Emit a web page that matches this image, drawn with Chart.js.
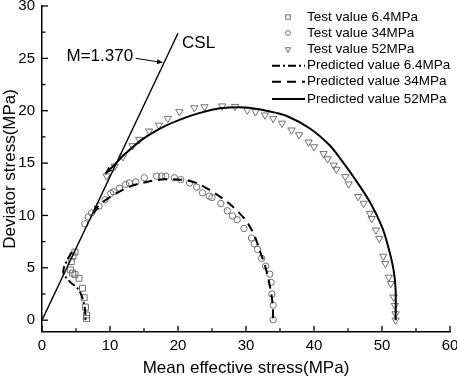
<!DOCTYPE html>
<html>
<head>
<meta charset="utf-8">
<script src="https://cdn.jsdelivr.net/npm/chart.js@4.4.1/dist/chart.umd.min.js"></script>
<style>
  html, body { margin: 0; padding: 0; background: #fff; }
  #wrap { width: 457px; height: 379px; }
</style>
</head>
<body>
<div id="wrap"><canvas id="chart" width="457" height="379"></canvas></div>
<script>
const FONT = "'Liberation Sans', Arial, sans-serif";

const xTicks = [0, 10, 20, 30, 40, 50, 60];
const yTicks = [0, 5, 10, 15, 20, 25, 30];
const xMinor = [5, 15, 25, 35, 45, 55];
const yMinor = [2.5, 7.5, 12.5, 17.5, 22.5, 27.5];

const seriesNames = [
  "Test value 6.4MPa", "Test value 34MPa", "Test value 52MPa",
  "Predicted value 6.4MPa", "Predicted value 34MPa", "Predicted value 52MPa"
];

// critical state line
const cslP = [0, 20];
const cslQ = [0, 27.4];
const cslSlope = "M=1.370";

// test points
const test64P = [4.85, 4.55, 4.3, 4.2, 4.5, 4.85, 5.45, 5.95, 6.2, 6.4, 6.55, 6.55];
const test64Q = [6.5, 6.1, 5.6, 4.8, 4.5, 4.35, 4.0, 3.05, 2.15, 1.25, 0.5, 0.15];

const test34P = [6.3, 6.8, 7.3, 8.4, 9.26, 10.1, 10.5, 11.4, 12.3, 12.84, 13.8, 15.04, 16.87, 17.6, 18.2, 19.46, 20.4, 21.7, 22.75, 23.6, 24.6, 25.0, 26.3, 27.25, 28.0, 28.7, 29.7, 30.8, 31.2, 31.7, 32.3, 32.9, 33.5, 33.7, 33.8, 34.0, 34.0];
const test34Q = [9.2, 9.85, 10.25, 10.9, 11.5, 12.1, 12.26, 12.6, 12.96, 13.1, 13.2, 13.6, 13.75, 13.75, 13.75, 13.6, 13.42, 13.1, 12.7, 12.16, 11.84, 11.7, 11.14, 10.44, 9.95, 9.6, 8.76, 7.85, 7.3, 6.75, 5.9, 5.16, 4.4, 3.6, 2.5, 1.43, 0.05];

const test52P = [9.5, 10.7, 11.9, 13.3, 14.3, 15.75, 17.2, 18.5, 20.2, 22.4, 23.9, 26.5, 28.4, 30.2, 31.4, 32.8, 34.0, 35.3, 36.7, 37.8, 39.2, 40.0, 41.4, 42.0, 42.9, 43.3, 44.6, 45.1, 46.5, 47.3, 48.2, 48.5, 49.1, 49.6, 50.2, 50.5, 51.0, 51.3, 51.7, 51.9, 52.0, 52.0];
const test52Q = [13.75, 14.7, 15.6, 16.65, 17.26, 18.05, 18.62, 19.26, 19.9, 20.28, 20.37, 20.45, 20.4, 20.06, 19.9, 19.58, 19.26, 18.8, 18.15, 17.7, 17.0, 16.55, 15.9, 15.4, 14.8, 14.4, 13.7, 13.0, 11.8, 11.15, 10.2, 9.7, 8.6, 7.8, 6.1, 5.4, 4.1, 3.5, 2.2, 1.4, 0.6, 0.0];

// predicted paths (first point = arrow end on the CSL side)
const pred64P = [4.4, 4.1, 3.6, 3.13, 3.9, 4.6, 5.1, 5.8, 6.3, 6.4];
const pred64Q = [6.5, 6.2, 5.6, 4.6, 3.8, 3.4, 3.15, 2.4, 1.1, 0];

const pred34P = [7.6, 8.0, 9.2, 10.5, 12.9, 15.4, 18.0, 20.3, 22.5, 24.2, 26.6, 28.6, 30.1, 31.3, 32.1, 32.8, 33.5, 33.9, 34.0];
const pred34Q = [10.2, 10.7, 11.4, 11.95, 12.75, 13.2, 13.45, 13.42, 13.15, 12.6, 11.6, 10.5, 9.4, 8.0, 6.5, 5.2, 3.3, 1.6, 0];

const pred52P = [9.3, 10.6, 12.0, 14.4, 16.0, 18.3, 20.5, 22.5, 25.0, 27.5, 30.0, 33.0, 36.0, 39.4, 42.3, 44.0, 46.0, 48.2, 50.0, 51.0, 51.7, 52.0, 52.0];
const pred52Q = [14.0, 14.8, 15.75, 17.1, 17.8, 18.6, 19.2, 19.65, 20.1, 20.3, 20.3, 20.0, 19.5, 18.3, 16.7, 15.3, 13.5, 11.3, 8.9, 6.8, 4.8, 2.9, 0];

const toPoints = (ps, qs) => ps.map((p, i) => ({ x: p, y: qs[i] }));

const MARK = "#707070";

function markerSet(label, ps, qs, style, radius, rotation) {
  return {
    label, data: toPoints(ps, qs), showLine: false,
    pointStyle: style, pointRadius: radius, pointRotation: rotation || 0,
    pointBorderColor: MARK, pointBackgroundColor: "rgba(0,0,0,0)", pointBorderWidth: 1,
  };
}

function lineSet(label, ps, qs, dash, width) {
  return {
    label, data: toPoints(ps, qs), showLine: true, pointRadius: 0,
    borderColor: "#000", borderWidth: width, borderDash: dash, tension: 0.35, fill: false,
  };
}

const datasets = [
  lineSet("CSL", cslP, cslQ, [], 1.4),
  lineSet(seriesNames[3], pred64P, pred64Q, [8, 3, 2, 3], 2),
  lineSet(seriesNames[4], pred34P, pred34Q, [9, 6], 2),
  lineSet(seriesNames[5], pred52P, pred52Q, [], 2),
  markerSet(seriesNames[0], test64P, test64Q, "rect", 4.2),
  markerSet(seriesNames[1], test34P, test34Q, "circle", 3.2),
  markerSet(seriesNames[2], test52P, test52Q, "triangle", 4.2, 180),
];
datasets[0].tension = 0;

function arrowHead(ctx, x1, y1, x2, y2, len, half) {
  const a = Math.atan2(y2 - y1, x2 - x1);
  ctx.beginPath();
  ctx.moveTo(x2, y2);
  ctx.lineTo(x2 - len * Math.cos(a) + half * Math.sin(a), y2 - len * Math.sin(a) - half * Math.cos(a));
  ctx.lineTo(x2 - len * Math.cos(a) - half * Math.sin(a), y2 - len * Math.sin(a) + half * Math.cos(a));
  ctx.closePath();
  ctx.fill();
}

const decor = {
  id: "decor",
  afterDatasetsDraw(chart) {
    const { ctx, chartArea, scales: { x, y } } = chart;
    ctx.save();
    ctx.strokeStyle = "#000";
    ctx.fillStyle = "#000";
    ctx.lineWidth = 1.3;
    ctx.setLineDash([]);

    // inward ticks
    const bottom = chartArea.bottom, left = chartArea.left;
    xTicks.forEach(v => { const px = x.getPixelForValue(v); ctx.beginPath(); ctx.moveTo(px, bottom); ctx.lineTo(px, bottom - 6); ctx.stroke(); });
    xMinor.forEach(v => { const px = x.getPixelForValue(v); ctx.beginPath(); ctx.moveTo(px, bottom); ctx.lineTo(px, bottom - 3.5); ctx.stroke(); });
    yTicks.forEach(v => { const py = y.getPixelForValue(v); ctx.beginPath(); ctx.moveTo(left, py); ctx.lineTo(left + 6, py); ctx.stroke(); });
    yMinor.forEach(v => { const py = y.getPixelForValue(v); ctx.beginPath(); ctx.moveTo(left, py); ctx.lineTo(left + 3.5, py); ctx.stroke(); });

    // arrow heads at the CSL end of the predicted paths
    [[pred52P, pred52Q], [pred34P, pred34Q]].forEach(([ps, qs]) => {
      arrowHead(ctx, x.getPixelForValue(ps[1]), y.getPixelForValue(qs[1]),
        x.getPixelForValue(ps[0]), y.getPixelForValue(qs[0]), 7, 2.8);
    });

    // annotations
    ctx.font = "17px " + FONT;
    ctx.textBaseline = "middle";
    ctx.textAlign = "left";
    ctx.fillText("CSL", x.getPixelForValue(20.6), y.getPixelForValue(26.45));
    ctx.textAlign = "right";
    ctx.fillText(cslSlope, x.getPixelForValue(13.4), y.getPixelForValue(25.2));

    ctx.lineWidth = 1;
    const ax1 = x.getPixelForValue(13.8), ay1 = y.getPixelForValue(25.0);
    const ax2 = x.getPixelForValue(17.8), ay2 = y.getPixelForValue(24.6);
    ctx.beginPath(); ctx.moveTo(ax1, ay1); ctx.lineTo(ax2 - 4, ay2 - 0.6); ctx.stroke();
    arrowHead(ctx, ax1, ay1, ax2, ay2, 6, 2.5);

    // legend
    const rowY = [17, 33, 49.3, 65.7, 81.7, 99];
    const symX = 288, lineX1 = 272, lineX2 = 305, textX = 307;
    ctx.font = "13.5px " + FONT;
    ctx.textAlign = "left";
    const legendSets = [datasets[4], datasets[5], datasets[6], datasets[1], datasets[2], datasets[3]];
    legendSets.forEach((ds, i) => {
      const cy = rowY[i];
      if (ds.showLine) {
        ctx.save();
        ctx.strokeStyle = "#000";
        ctx.lineWidth = 2;
        ctx.setLineDash(ds.borderDash);
        ctx.beginPath(); ctx.moveTo(lineX1, cy); ctx.lineTo(lineX2, cy); ctx.stroke();
        ctx.restore();
      } else {
        ctx.save();
        ctx.strokeStyle = MARK;
        ctx.fillStyle = "rgba(0,0,0,0)";
        ctx.lineWidth = 1;
        Chart.helpers.drawPoint(ctx, { pointStyle: ds.pointStyle, radius: ds.pointRadius * 0.75, rotation: ds.pointRotation, borderWidth: 1 }, symX, cy);
        ctx.restore();
      }
      ctx.fillStyle = "#000";
      ctx.fillText(ds.label, textX, cy);
    });
    ctx.restore();
  }
};

new Chart(document.getElementById("chart"), {
  type: "scatter",
  data: { datasets },
  plugins: [decor],
  options: {
    responsive: false,
    animation: false,
    devicePixelRatio: 1,
    layout: { padding: { top: 6, right: 7, left: 0, bottom: 0 } },
    plugins: { legend: { display: false }, tooltip: { enabled: false } },
    scales: {
      x: {
        type: "linear", min: 0, max: 60,
        afterBuildTicks: s => { s.ticks = xTicks.map(v => ({ value: v })); },
        afterFit: s => { s.height = 47.3; s.paddingLeft = 0; s.paddingRight = 0; },
        grid: { display: false, drawTicks: false },
        border: { display: true, color: "#000", width: 1.5 },
        ticks: { color: "#000", font: { family: FONT, size: 15 }, padding: 5, maxRotation: 0 },
        title: { display: true, text: "Mean effective stress(MPa)", color: "#000", font: { family: FONT, size: 17 }, padding: 0 },
      },
      y: {
        type: "linear", min: -1.1, max: 30,
        afterBuildTicks: s => { s.ticks = yTicks.map(v => ({ value: v })); },
        afterFit: s => { s.width = 42; s.paddingTop = 0; s.paddingBottom = 0; },
        grid: { display: false, drawTicks: false },
        border: { display: true, color: "#000", width: 1.5 },
        ticks: { color: "#000", font: { family: FONT, size: 15 }, padding: 7 },
        title: { display: true, text: "Deviator stress(MPa)", color: "#000", font: { family: FONT, size: 17 }, padding: 0 },
      }
    }
  }
});
</script>
</body>
</html>
